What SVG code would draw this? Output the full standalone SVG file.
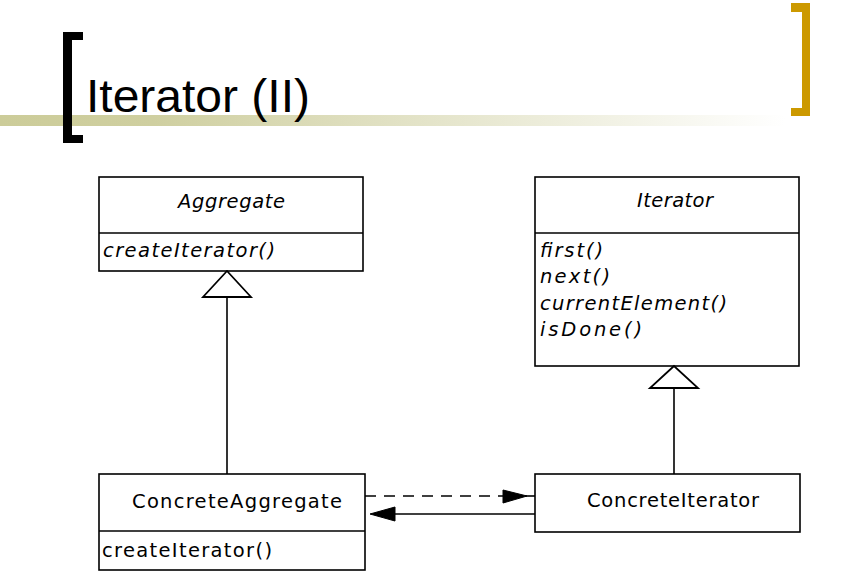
<svg xmlns="http://www.w3.org/2000/svg" width="854" height="581" viewBox="0 0 854 581">
<defs>
<linearGradient id="bar" x1="0" y1="0" x2="854" y2="0" gradientUnits="userSpaceOnUse">
<stop offset="0" stop-color="#cccc99"/>
<stop offset="0.18" stop-color="#cfcfa0"/>
<stop offset="0.92" stop-color="#ffffff"/>
</linearGradient>
<style>
.box{fill:#fff;stroke:#000;stroke-width:1.6}
.ln{stroke:#000;stroke-width:1.6;fill:none}
.t{font-family:"DejaVu Sans","Liberation Sans",sans-serif;font-size:19.5px;fill:#000}
.i{font-style:italic}
.tri{fill:#fff;stroke:#000;stroke-width:1.8}
.head{fill:#000;stroke:#000;stroke-width:1}
</style>
</defs>
<rect width="854" height="581" fill="#fff"/>
<g id="title">
<rect x="0" y="115" width="854" height="11" fill="url(#bar)"/>
<path d="M83 32 H63 V143 H83 V135 H72 V40 H83 Z" fill="#000"/>
<path d="M791 3 H810 V116 H791 V108 H802 V12 H791 Z" fill="#cc9900"/>
<text x="86" y="112" font-family="'Liberation Sans',Arial,sans-serif" font-size="47" textLength="224" lengthAdjust="spacingAndGlyphs">Iterator (II)</text>
</g>
<g id="aggregate">
<rect class="box" x="99" y="177" width="264" height="94"/>
<line class="ln" x1="99" y1="233" x2="363" y2="233"/>
<text class="t i" x="178" y="208" textLength="107" lengthAdjust="spacing">Aggregate</text>
<text class="t i" x="103" y="257" textLength="172" lengthAdjust="spacing">createIterator()</text>
</g>
<g id="iterator">
<rect class="box" x="535" y="177" width="264" height="189"/>
<line class="ln" x1="535" y1="233" x2="799" y2="233"/>
<text class="t i" x="637" y="207" textLength="76" lengthAdjust="spacing">Iterator</text>
<text class="t i" x="540" y="257" textLength="63" lengthAdjust="spacing">first()</text>
<text class="t i" x="540" y="283" textLength="70" lengthAdjust="spacing">next()</text>
<text class="t i" x="540" y="310" textLength="187" lengthAdjust="spacing">currentElement()</text>
<text class="t i" x="540" y="336" textLength="102" lengthAdjust="spacing">isDone()</text>
</g>
<g id="concreteAggregate">
<rect class="box" x="99" y="474" width="266" height="96"/>
<line class="ln" x1="99" y1="531" x2="365" y2="531"/>
<text class="t" x="132" y="508" textLength="210" lengthAdjust="spacing">ConcreteAggregate</text>
<text class="t" x="102" y="557" textLength="170" lengthAdjust="spacing">createIterator()</text>
</g>
<g id="concreteIterator">
<rect class="box" x="535" y="474" width="265" height="58"/>
<text class="t" x="587" y="507" textLength="172" lengthAdjust="spacing">ConcreteIterator</text>
</g>
<g id="connectors">
<line class="ln" x1="227" y1="297" x2="227" y2="474"/>
<polygon class="tri" points="227,271 203,297 251,297"/>
<line class="ln" x1="674" y1="388" x2="674" y2="474"/>
<polygon class="tri" points="674,366 650,388 698,388"/>
<line class="ln" x1="365" y1="496" x2="503" y2="496" stroke-dasharray="11 8"/>
<polygon class="head" points="503,490 527,496 503,503"/>
<line class="ln" x1="525" y1="496" x2="535" y2="496"/>
<line class="ln" x1="535" y1="514" x2="393" y2="514"/>
<polygon class="head" points="395,507 370,514 395,521"/>
</g>
</svg>
